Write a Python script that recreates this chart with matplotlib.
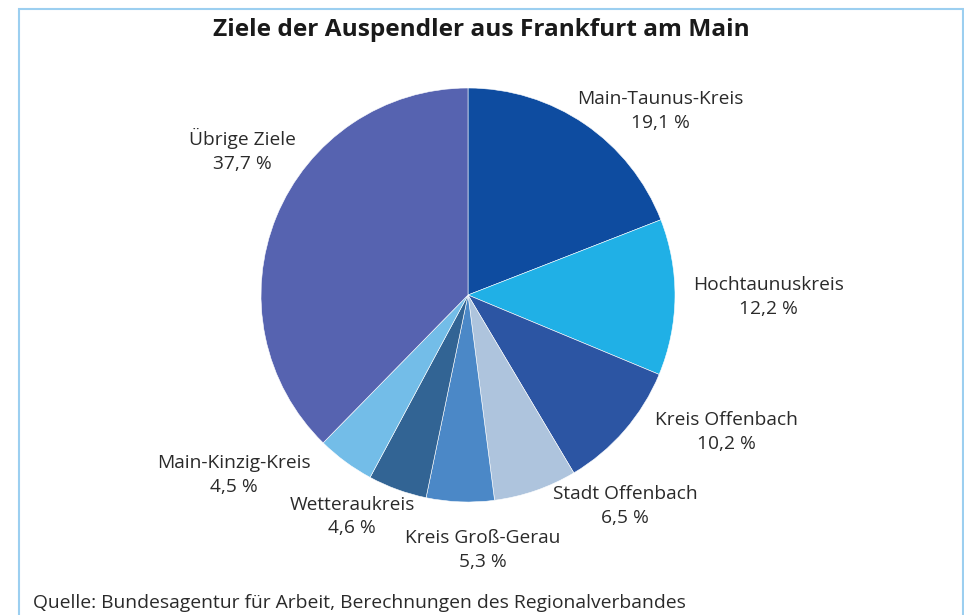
import matplotlib.pyplot as plt
from matplotlib.patches import Rectangle

# Commuter destinations from Frankfurt am Main (share in %)
names = ['Main-Taunus-Kreis', 'Hochtaunuskreis', 'Kreis Offenbach', 'Stadt Offenbach',
         'Kreis Groß-Gerau', 'Wetteraukreis', 'Main-Kinzig-Kreis', 'Übrige Ziele']
shares = [19.1, 12.2, 10.2, 6.5, 5.3, 4.6, 4.5, 37.7]
colors = ['#0e4ca0', '#20b0e6', '#2c55a3', '#aec4dd', '#4b88c7', '#326494', '#73bde8', '#5663b0']

# label anchor points (pie radius = 1)
label_xy = [(0.93, 0.89), (1.45, -0.01), (1.25, -0.66), (0.76, -1.02),
            (0.07, -1.23), (-0.56, -1.07), (-1.13, -0.87), (-1.09, 0.70)]

font = 'Open Sans'
plt.rcParams['font.family'] = [font, 'DejaVu Sans']

fig = plt.figure(figsize=(9.64, 6.15), dpi=100)
ax = fig.add_axes([0, 0, 1, 1])
ax.pie(shares, colors=colors, startangle=90, counterclock=False, radius=1.0,
       wedgeprops=dict(edgecolor='white', linewidth=0.4))
ax.set_xlim(-468 / 207., (964 - 468) / 207.)
ax.set_ylim(-(615 - 295) / 207., 295 / 207.)
ax.axis('off')

for name, val, (x, y) in zip(names, shares, label_xy):
    txt = '%s\n%s %%' % (name, ('%.1f' % val).replace('.', ','))
    ax.text(x, y, txt, ha='center', va='center', fontsize=13.8, color='#2a2a2a',
            linespacing=1.42)

fig.text(481 / 964., 1 - 30 / 615., 'Ziele der Auspendler aus Frankfurt am Main',
         ha='center', va='center', fontsize=17.6, fontweight='bold', color='#1a1a1a')
fig.text(33 / 964., 1 - 603 / 615., 'Quelle: Bundesagentur für Arbeit, Berechnungen des Regionalverbandes',
         ha='left', va='center', fontsize=13.9, color='#2a2a2a')

# light blue frame, open at the bottom
fig.add_artist(Rectangle((19 / 964., -0.05), (963 - 19) / 964., 1.05 - 9 / 615.,
                         transform=fig.transFigure, fill=False,
                         edgecolor='#9ccff0', linewidth=1.5))

fig.savefig('out.png', dpi=100)
